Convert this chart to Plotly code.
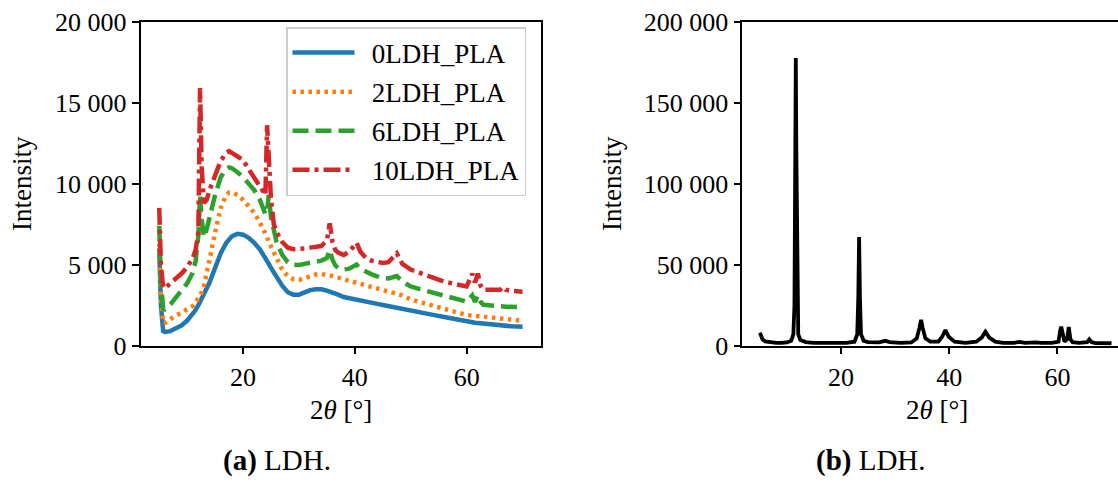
import plotly.graph_objects as go

# ---------------- data ----------------
theta_a = [5.0, 5.3, 5.7, 6.0, 7, 8, 9, 10, 11, 11.5, 12.0, 12.3, 12.6, 13.0, 13.5,
           14, 15, 16, 17, 17.5, 18, 19, 20, 21, 22, 23, 24, 24.3, 24.6, 25.0, 25.5,
           26, 27, 28, 29, 30, 31, 32, 33, 34, 35, 35.5, 36, 36.5, 37, 38, 39, 40.3,
           41, 42, 43, 44, 45, 46, 47.5, 48.5, 50, 52, 54, 56, 58, 60, 61, 61.5, 62,
           62.5, 63, 64, 65, 66, 66.5, 67, 68, 70]

ldh0 = [6000, 2500, 900, 850, 900, 1050, 1250, 1550, 1950, 2200, 2500, 2700, 2900, 3100, 3450,
        3900, 4800, 5700, 6350, 6600, 6750, 6900, 6850, 6650, 6350, 5950, 5450, 5250, 5050, 4800, 4500,
        4200, 3700, 3300, 3150, 3150, 3300, 3430, 3480, 3480, 3400, 3350, 3280, 3220, 3150, 3000, 2920, 2820,
        2750, 2700, 2650, 2580, 2510, 2450, 2350, 2300, 2200, 2050, 1900, 1770, 1620, 1480, 1440, 1420, 1400,
        1380, 1350, 1310, 1280, 1250, 1240, 1220, 1200, 1170]

ldh2 = [6300, 3000, 1400, 1400, 1650, 1850, 2050, 2250, 2450, 2650, 2900, 3100, 3300, 3700, 4400,
        5300, 7000, 8500, 9300, 9450, 9450, 9300, 9000, 8600, 8200, 7600, 6950, 6700, 6400, 6100, 5700,
        5300, 4700, 4300, 4100, 4050, 4150, 4300, 4400, 4420, 4380, 4340, 4300, 4250, 4200, 4050, 3950, 3870,
        3800, 3720, 3620, 3530, 3440, 3350, 3220, 3100, 2850, 2650, 2450, 2250, 2050, 1890, 1860, 1840, 1820,
        1800, 1780, 1750, 1720, 1680, 1660, 1640, 1600, 1540]

ldh6 = [7400, 4000, 2300, 2250, 2550, 2950, 3350, 3850, 4500, 5200, 6800, 9200, 7800, 6700, 7200,
        7900, 9300, 10400, 10900, 11000, 10950, 10700, 10400, 10000, 9600, 9000, 8100, 8300, 9300, 7900, 7000,
        6400, 5600, 5150, 5000, 4980, 5050, 5120, 5200, 5250, 5400, 5900, 5300, 4950, 4800, 4700, 4750, 5000,
        4750, 4550, 4400, 4280, 4170, 4150, 4300, 3950, 3650, 3450, 3250, 3050, 2880, 2720, 3100, 2700, 3100,
        2700, 2520, 2480, 2450, 2430, 2420, 2410, 2400, 2370]

ldh10 = [8500, 5000, 3600, 3550, 3850, 4150, 4450, 4850, 5400, 5900, 7000, 15900, 11000, 8800, 9000,
         9600, 10600, 11400, 11900, 12000, 11900, 11700, 11450, 10900, 10400, 9900, 9300, 13600, 12000, 9000, 7500,
         7000, 6400, 6050, 5950, 5950, 6000, 6050, 6100, 6150, 6500, 7550, 6400, 5900, 5750, 5600, 5800, 6350,
         5800, 5400, 5250, 5150, 5100, 5150, 5700, 5050, 4700, 4450, 4200, 3950, 3800, 3650, 4450, 3900, 4450,
         3700, 3450, 3440, 3430, 3450, 3620, 3450, 3380, 3330]

theta_b = [5.0, 5.5, 6.0, 7, 8, 9, 10, 10.8, 11.2, 11.4, 11.55, 11.65, 11.75, 11.9, 12.1, 12.5,
           13.5, 15, 17, 19, 21, 22.5, 23.0, 23.2, 23.35, 23.5, 23.7, 24.2, 25, 27, 28.2, 29,
           31, 33, 34.0, 34.5, 34.8, 35.1, 35.6, 36.5, 38, 38.7, 39.3, 39.9, 41, 43, 45, 46.0,
           46.7, 47.4, 48.5, 50, 52, 53, 54, 56, 57, 59, 60.2, 60.5, 60.7, 60.9, 61.3, 61.8,
           62.1, 62.4, 62.8, 64, 65.5, 65.9, 66.3, 67, 70]

ldh_b = [8000, 4000, 2600, 2000, 1800, 1800, 2000, 3000, 7000, 25000, 120000, 177500, 120000, 25000, 7000, 3500,
         2200, 1800, 1700, 1700, 1800, 2500, 7000, 30000, 67000, 30000, 7000, 3000, 2200, 2000, 3000, 2200,
         1800, 2000, 4500, 11000, 15900, 11000, 4500, 2500, 2500, 5500, 9700, 5500, 2500, 1800, 2500, 5000,
         8650, 5000, 2500, 1800, 1800, 2400, 1800, 2100, 1800, 1800, 2500, 9000, 11700, 9000, 2500, 4000,
         11500, 4000, 2200, 1800, 2200, 3900, 2200, 1600, 1500]

series_names = ["0LDH_PLA", "2LDH_PLA", "6LDH_PLA", "10LDH_PLA"]
series_vals = [ldh0, ldh2, ldh6, ldh10]

yticks_a = [0, 5000, 10000, 15000, 20000]
yticklabels_a = ["0", "5 000", "10 000", "15 000", "20 000"]
yticks_b = [0, 50000, 100000, 150000, 200000]
yticklabels_b = ["0", "50 000", "100 000", "150 000", "200 000"]
xticks = [20, 40, 60]
xticklabels = ["20", "40", "60"]

# ---------------- styling ----------------
W, H = 1118, 499
FONT = "Liberation Serif"
FS_TICK = 26
FS_LEG = 27
FS_TITLE = 27
FS_CAP = 29
colors = ["#1f77b4", "#ff7f0e", "#2ca02c", "#d62728"]
dashes = ["solid", "3.5px,4.5px", "16px,7px", "17px,5px,4px,5px"]

def px_x(p):
    return p / W

def px_y(p):
    return (H - p) / H

fig = go.Figure()
for name, vals, c, d in zip(series_names, series_vals, colors, dashes):
    fig.add_trace(go.Scatter(x=theta_a, y=vals, mode="lines",
                             name="\u00a0\u2009" + name,
                             legendgroup=name,
                             line=dict(color=c, width=4.5, dash=d),
                             xaxis="x", yaxis="y"))

fig.add_trace(go.Scatter(x=theta_b, y=ldh_b, mode="lines", showlegend=False,
                         line=dict(color="black", width=3.8),
                         xaxis="x2", yaxis="y2"))

ydom = [px_y(345.7), px_y(21.5)]
axis_common = dict(showgrid=False, zeroline=False, showline=True, linecolor="black",
                   linewidth=1.5, ticks="outside", ticklen=7, tickwidth=1.5,
                   tickcolor="black", automargin=False,
                   tickfont=dict(family=FONT, size=FS_TICK, color="black"))

fig.update_layout(
    width=W, height=H,
    margin=dict(l=0, r=0, t=0, b=0, pad=0, autoexpand=False),
    paper_bgcolor="white", plot_bgcolor="white",
    font=dict(family=FONT, size=FS_TICK, color="black"),
    xaxis=dict(domain=[px_x(140.5), px_x(540.7)], range=[1.65, 73.25], mirror=True,
               tickvals=xticks, ticktext=xticklabels, anchor="y", **axis_common),
    yaxis=dict(domain=ydom, range=[0, 20000], mirror=True,
               tickvals=yticks_a, ticktext=yticklabels_a, anchor="x", **axis_common),
    xaxis2=dict(domain=[px_x(742.3), 1.0], range=[1.76, 71.2], mirror=True,
                tickvals=xticks, ticktext=xticklabels, anchor="y2", **axis_common),
    yaxis2=dict(domain=ydom, range=[0, 200000], mirror=False,
                tickvals=yticks_b, ticktext=yticklabels_b, anchor="x2", **axis_common),
    legend=dict(x=px_x(286), y=px_y(27), xanchor="left", yanchor="top",
                bgcolor="rgba(255,255,255,0.85)", bordercolor="#cccccc", borderwidth=1.5,
                font=dict(family=FONT, size=FS_LEG, color="black"),
                tracegroupgap=1, itemwidth=62),
    showlegend=True,
)

annots = [
    dict(text="2<i>θ</i> [°]", x=px_x(341), y=px_y(410), size=FS_TITLE),
    dict(text="2<i>θ</i> [°]", x=px_x(937), y=px_y(410), size=FS_TITLE),
    dict(text="Intensity", x=px_x(22), y=px_y(184), textangle=-90, size=FS_TITLE),
    dict(text="Intensity", x=px_x(612), y=px_y(184), textangle=-90, size=FS_TITLE),
    dict(text="<b>(a)</b> LDH.", x=px_x(277), y=px_y(460), size=FS_CAP),
    dict(text="<b>(b)</b> LDH.", x=px_x(871), y=px_y(460), size=FS_CAP),
]
for a in annots:
    sz = a.pop("size")
    fig.add_annotation(xref="paper", yref="paper", showarrow=False,
                       xanchor="center", yanchor="middle",
                       font=dict(family=FONT, size=sz, color="black"), **a)

fig.write_html("out.html")
